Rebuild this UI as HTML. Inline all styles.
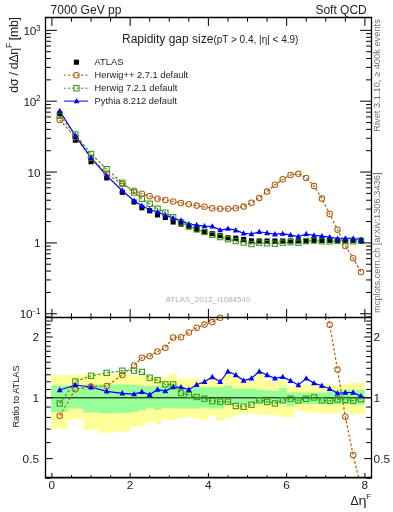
<!DOCTYPE html><html><head><meta charset="utf-8"><style>html,body{margin:0;padding:0;background:#fff;}svg{display:block;will-change:transform;}text{font-family:"Liberation Sans",sans-serif;}</style></head><body>
<svg width="393" height="512" viewBox="0 0 393 512" fill="#222">
<rect x="0" y="0" width="393" height="512" fill="#fff"/>
<path d="M51.10,375.00H67.55V428.70H51.10ZM67.55,375.00H83.20V419.20H67.55ZM83.20,373.90H98.85V430.00H83.20ZM98.85,373.90H114.50V432.80H98.85ZM114.50,373.90H130.15V431.40H114.50ZM130.15,375.30H137.97V426.90H130.15ZM137.97,375.30H145.80V426.10H137.97ZM145.80,376.90H153.62V421.40H145.80ZM153.62,377.70H161.45V423.75H153.62ZM161.45,376.90H169.28V419.80H161.45ZM169.28,373.30H177.10V420.20H169.28ZM177.10,378.70H184.93V417.80H177.10ZM184.93,378.70H192.75V417.00H184.93ZM192.75,378.70H200.57V418.60H192.75ZM200.57,379.50H208.40V420.20H200.57ZM208.40,378.70H216.23V415.50H208.40ZM216.23,380.00H224.05V421.00H216.23ZM224.05,372.00H231.88V418.30H224.05ZM231.88,376.90H239.70V415.20H231.88ZM239.70,380.00H247.53V413.60H239.70ZM247.53,380.00H255.35V413.60H247.53ZM255.35,372.00H263.18V414.40H255.35ZM263.18,380.00H271.00V415.20H263.18ZM271.00,382.00H278.82V415.20H271.00ZM278.82,379.20H286.65V416.70H278.82ZM286.65,387.00H294.48V416.70H286.65ZM294.48,386.25H302.30V409.70H294.48ZM302.30,384.70H310.12V412.80H302.30ZM310.12,384.00H317.95V412.80H310.12ZM317.95,384.00H325.77V413.60H317.95ZM325.77,384.00H333.60V413.60H325.77ZM333.60,386.60H341.43V413.20H333.60ZM341.43,384.50H349.25V410.40H341.43ZM349.25,383.00H357.07V414.60H349.25ZM357.07,382.40H364.90V413.90H357.07Z" fill="#ffff99"/>
<path d="M51.10,385.50H67.55V412.00H51.10ZM67.55,385.50H83.20V408.40H67.55ZM83.20,384.50H98.85V412.40H83.20ZM98.85,384.50H114.50V413.50H98.85ZM114.50,384.50H130.15V413.00H114.50ZM130.15,384.70H137.97V412.00H130.15ZM137.97,385.50H145.80V410.50H137.97ZM145.80,386.25H153.62V408.10H145.80ZM153.62,385.50H161.45V409.70H153.62ZM161.45,384.70H169.28V408.10H161.45ZM169.28,383.40H177.10V408.40H169.28ZM177.10,387.00H184.93V408.40H177.10ZM184.93,389.00H192.75V408.40H184.93ZM192.75,387.30H200.57V408.40H192.75ZM200.57,387.30H208.40V407.60H200.57ZM208.40,387.30H216.23V408.40H208.40ZM216.23,387.30H224.05V408.40H216.23ZM224.05,385.50H231.88V403.40H224.05ZM231.88,388.60H239.70V403.40H231.88ZM239.70,388.60H247.53V403.40H239.70ZM247.53,388.60H255.35V403.40H247.53ZM255.35,389.40H263.18V403.40H255.35ZM263.18,390.20H271.00V403.40H263.18ZM271.00,390.90H278.82V403.40H271.00ZM278.82,387.80H286.65V403.40H278.82ZM286.65,392.50H294.48V406.60H286.65ZM294.48,392.50H302.30V404.00H294.48ZM302.30,392.50H310.12V404.20H302.30ZM310.12,392.50H317.95V404.00H310.12ZM317.95,392.50H325.77V404.00H317.95ZM325.77,391.50H333.60V404.00H325.77ZM333.60,390.50H341.43V404.50H333.60ZM341.43,390.00H349.25V404.50H341.43ZM349.25,390.00H357.07V404.50H349.25ZM357.07,390.00H364.90V404.50H357.07Z" fill="#99ff99"/>
<line x1="45.5" y1="397.8" x2="371.5" y2="397.8" stroke="#000" stroke-width="1.0"/>
<defs><clipPath id="cm"><rect x="45.5" y="17.5" width="326.0" height="300.0"/></clipPath><clipPath id="cr"><rect x="45.5" y="317.5" width="326.0" height="160.0"/></clipPath></defs>
<polyline points="59.73,415.70 75.38,389.20 91.03,386.60 106.67,386.00 122.32,375.00 134.06,365.50 141.89,357.80 149.71,356.20 157.54,351.50 165.36,347.70 173.19,337.40 181.01,337.20 188.84,332.50 196.66,327.80 204.49,324.60 212.31,322.10 220.14,317.80 227.96,315.12 235.79,312.27 243.61,304.28 251.44,289.46 259.26,274.92 267.09,256.96 274.91,237.57 282.74,221.89 290.56,209.34 298.39,206.21 306.21,218.47 314.04,241.85 321.86,278.62 329.69,324.70 337.51,369.50 345.34,416.80 353.16,455.00 360.99,488.18" fill="none" stroke="#b35c0e" stroke-width="1.2" stroke-dasharray="2.6,2" clip-path="url(#cr)"/>
<polyline points="59.73,403.50 75.38,381.50 91.03,375.80 106.67,372.90 122.32,370.70 134.06,370.70 141.89,371.90 149.71,377.70 157.54,380.10 165.36,384.30 173.19,384.30 181.01,393.00 188.84,395.00 196.66,397.00 204.49,398.70 212.31,401.10 220.14,401.70 227.96,401.70 235.79,406.00 243.61,406.70 251.44,404.70 259.26,400.20 267.09,401.90 274.91,403.40 282.74,400.30 290.56,398.75 298.39,400.30 306.21,398.75 314.04,397.50 321.86,400.30 329.69,400.90 337.51,399.50 345.34,399.90 353.16,400.60 360.99,399.20" fill="none" stroke="#399614" stroke-width="1.2" stroke-dasharray="2.6,2" clip-path="url(#cr)"/>
<polyline points="59.73,390.00 75.38,385.00 91.03,387.00 106.67,391.30 122.32,393.30 134.06,394.10 141.89,391.80 149.71,394.80 157.54,389.50 165.36,391.10 173.19,387.10 181.01,387.10 188.84,389.70 196.66,384.80 204.49,381.80 212.31,377.00 220.14,381.80 227.96,371.50 235.79,375.00 243.61,380.50 251.44,378.40 259.26,371.50 267.09,375.00 274.91,378.40 282.74,376.90 290.56,380.80 298.39,385.00 306.21,378.40 314.04,383.10 321.86,385.70 329.69,388.80 337.51,393.30 345.34,392.50 353.16,392.50 360.99,396.10" fill="none" stroke="#0000ff" stroke-width="1.2" clip-path="url(#cr)"/>
<g>
<circle cx="59.73" cy="415.70" r="2.75" fill="none" stroke="#b35c0e" stroke-width="1.05"/>
<circle cx="75.38" cy="389.20" r="2.75" fill="none" stroke="#b35c0e" stroke-width="1.05"/>
<circle cx="91.03" cy="386.60" r="2.75" fill="none" stroke="#b35c0e" stroke-width="1.05"/>
<circle cx="106.67" cy="386.00" r="2.75" fill="none" stroke="#b35c0e" stroke-width="1.05"/>
<circle cx="122.32" cy="375.00" r="2.75" fill="none" stroke="#b35c0e" stroke-width="1.05"/>
<circle cx="134.06" cy="365.50" r="2.75" fill="none" stroke="#b35c0e" stroke-width="1.05"/>
<circle cx="141.89" cy="357.80" r="2.75" fill="none" stroke="#b35c0e" stroke-width="1.05"/>
<circle cx="149.71" cy="356.20" r="2.75" fill="none" stroke="#b35c0e" stroke-width="1.05"/>
<circle cx="157.54" cy="351.50" r="2.75" fill="none" stroke="#b35c0e" stroke-width="1.05"/>
<circle cx="165.36" cy="347.70" r="2.75" fill="none" stroke="#b35c0e" stroke-width="1.05"/>
<circle cx="173.19" cy="337.40" r="2.75" fill="none" stroke="#b35c0e" stroke-width="1.05"/>
<circle cx="181.01" cy="337.20" r="2.75" fill="none" stroke="#b35c0e" stroke-width="1.05"/>
<circle cx="188.84" cy="332.50" r="2.75" fill="none" stroke="#b35c0e" stroke-width="1.05"/>
<circle cx="196.66" cy="327.80" r="2.75" fill="none" stroke="#b35c0e" stroke-width="1.05"/>
<circle cx="204.49" cy="324.60" r="2.75" fill="none" stroke="#b35c0e" stroke-width="1.05"/>
<circle cx="212.31" cy="322.10" r="2.75" fill="none" stroke="#b35c0e" stroke-width="1.05"/>
<circle cx="220.14" cy="317.80" r="2.75" fill="none" stroke="#b35c0e" stroke-width="1.05"/>
<circle cx="329.69" cy="324.70" r="2.75" fill="none" stroke="#b35c0e" stroke-width="1.05"/>
<circle cx="337.51" cy="369.50" r="2.75" fill="none" stroke="#b35c0e" stroke-width="1.05"/>
<circle cx="345.34" cy="416.80" r="2.75" fill="none" stroke="#b35c0e" stroke-width="1.05"/>
<circle cx="353.16" cy="455.00" r="2.75" fill="none" stroke="#b35c0e" stroke-width="1.05"/>
<rect x="57.08" y="400.85" width="5.3" height="5.3" fill="none" stroke="#399614" stroke-width="1.05"/>
<rect x="72.72" y="378.85" width="5.3" height="5.3" fill="none" stroke="#399614" stroke-width="1.05"/>
<rect x="88.38" y="373.15" width="5.3" height="5.3" fill="none" stroke="#399614" stroke-width="1.05"/>
<rect x="104.02" y="370.25" width="5.3" height="5.3" fill="none" stroke="#399614" stroke-width="1.05"/>
<rect x="119.67" y="368.05" width="5.3" height="5.3" fill="none" stroke="#399614" stroke-width="1.05"/>
<rect x="131.41" y="368.05" width="5.3" height="5.3" fill="none" stroke="#399614" stroke-width="1.05"/>
<rect x="139.24" y="369.25" width="5.3" height="5.3" fill="none" stroke="#399614" stroke-width="1.05"/>
<rect x="147.06" y="375.05" width="5.3" height="5.3" fill="none" stroke="#399614" stroke-width="1.05"/>
<rect x="154.89" y="377.45" width="5.3" height="5.3" fill="none" stroke="#399614" stroke-width="1.05"/>
<rect x="162.71" y="381.65" width="5.3" height="5.3" fill="none" stroke="#399614" stroke-width="1.05"/>
<rect x="170.54" y="381.65" width="5.3" height="5.3" fill="none" stroke="#399614" stroke-width="1.05"/>
<rect x="178.36" y="390.35" width="5.3" height="5.3" fill="none" stroke="#399614" stroke-width="1.05"/>
<rect x="186.19" y="392.35" width="5.3" height="5.3" fill="none" stroke="#399614" stroke-width="1.05"/>
<rect x="194.01" y="394.35" width="5.3" height="5.3" fill="none" stroke="#399614" stroke-width="1.05"/>
<rect x="201.84" y="396.05" width="5.3" height="5.3" fill="none" stroke="#399614" stroke-width="1.05"/>
<rect x="209.66" y="398.45" width="5.3" height="5.3" fill="none" stroke="#399614" stroke-width="1.05"/>
<rect x="217.49" y="399.05" width="5.3" height="5.3" fill="none" stroke="#399614" stroke-width="1.05"/>
<rect x="225.31" y="399.05" width="5.3" height="5.3" fill="none" stroke="#399614" stroke-width="1.05"/>
<rect x="233.14" y="403.35" width="5.3" height="5.3" fill="none" stroke="#399614" stroke-width="1.05"/>
<rect x="240.96" y="404.05" width="5.3" height="5.3" fill="none" stroke="#399614" stroke-width="1.05"/>
<rect x="248.79" y="402.05" width="5.3" height="5.3" fill="none" stroke="#399614" stroke-width="1.05"/>
<rect x="256.61" y="397.55" width="5.3" height="5.3" fill="none" stroke="#399614" stroke-width="1.05"/>
<rect x="264.44" y="399.25" width="5.3" height="5.3" fill="none" stroke="#399614" stroke-width="1.05"/>
<rect x="272.26" y="400.75" width="5.3" height="5.3" fill="none" stroke="#399614" stroke-width="1.05"/>
<rect x="280.09" y="397.65" width="5.3" height="5.3" fill="none" stroke="#399614" stroke-width="1.05"/>
<rect x="287.91" y="396.10" width="5.3" height="5.3" fill="none" stroke="#399614" stroke-width="1.05"/>
<rect x="295.74" y="397.65" width="5.3" height="5.3" fill="none" stroke="#399614" stroke-width="1.05"/>
<rect x="303.56" y="396.10" width="5.3" height="5.3" fill="none" stroke="#399614" stroke-width="1.05"/>
<rect x="311.39" y="394.85" width="5.3" height="5.3" fill="none" stroke="#399614" stroke-width="1.05"/>
<rect x="319.21" y="397.65" width="5.3" height="5.3" fill="none" stroke="#399614" stroke-width="1.05"/>
<rect x="327.04" y="398.25" width="5.3" height="5.3" fill="none" stroke="#399614" stroke-width="1.05"/>
<rect x="334.86" y="396.85" width="5.3" height="5.3" fill="none" stroke="#399614" stroke-width="1.05"/>
<rect x="342.69" y="397.25" width="5.3" height="5.3" fill="none" stroke="#399614" stroke-width="1.05"/>
<rect x="350.51" y="397.95" width="5.3" height="5.3" fill="none" stroke="#399614" stroke-width="1.05"/>
<rect x="358.34" y="396.55" width="5.3" height="5.3" fill="none" stroke="#399614" stroke-width="1.05"/>
<path d="M59.73,386.80 L62.62,392.20 L56.83,392.20Z" fill="#0000ff"/>
<path d="M75.38,381.80 L78.28,387.20 L72.47,387.20Z" fill="#0000ff"/>
<path d="M91.03,383.80 L93.93,389.20 L88.12,389.20Z" fill="#0000ff"/>
<path d="M106.67,388.10 L109.58,393.50 L103.77,393.50Z" fill="#0000ff"/>
<path d="M122.32,390.10 L125.22,395.50 L119.42,395.50Z" fill="#0000ff"/>
<path d="M134.06,390.90 L136.96,396.30 L131.16,396.30Z" fill="#0000ff"/>
<path d="M141.89,388.60 L144.79,394.00 L138.99,394.00Z" fill="#0000ff"/>
<path d="M149.71,391.60 L152.61,397.00 L146.81,397.00Z" fill="#0000ff"/>
<path d="M157.54,386.30 L160.44,391.70 L154.64,391.70Z" fill="#0000ff"/>
<path d="M165.36,387.90 L168.26,393.30 L162.46,393.30Z" fill="#0000ff"/>
<path d="M173.19,383.90 L176.09,389.30 L170.29,389.30Z" fill="#0000ff"/>
<path d="M181.01,383.90 L183.91,389.30 L178.11,389.30Z" fill="#0000ff"/>
<path d="M188.84,386.50 L191.74,391.90 L185.94,391.90Z" fill="#0000ff"/>
<path d="M196.66,381.60 L199.56,387.00 L193.76,387.00Z" fill="#0000ff"/>
<path d="M204.49,378.60 L207.39,384.00 L201.59,384.00Z" fill="#0000ff"/>
<path d="M212.31,373.80 L215.21,379.20 L209.41,379.20Z" fill="#0000ff"/>
<path d="M220.14,378.60 L223.04,384.00 L217.24,384.00Z" fill="#0000ff"/>
<path d="M227.96,368.30 L230.86,373.70 L225.06,373.70Z" fill="#0000ff"/>
<path d="M235.79,371.80 L238.69,377.20 L232.89,377.20Z" fill="#0000ff"/>
<path d="M243.61,377.30 L246.51,382.70 L240.71,382.70Z" fill="#0000ff"/>
<path d="M251.44,375.20 L254.34,380.60 L248.54,380.60Z" fill="#0000ff"/>
<path d="M259.26,368.30 L262.16,373.70 L256.36,373.70Z" fill="#0000ff"/>
<path d="M267.09,371.80 L269.99,377.20 L264.19,377.20Z" fill="#0000ff"/>
<path d="M274.91,375.20 L277.81,380.60 L272.01,380.60Z" fill="#0000ff"/>
<path d="M282.74,373.70 L285.64,379.10 L279.84,379.10Z" fill="#0000ff"/>
<path d="M290.56,377.60 L293.46,383.00 L287.66,383.00Z" fill="#0000ff"/>
<path d="M298.39,381.80 L301.29,387.20 L295.49,387.20Z" fill="#0000ff"/>
<path d="M306.21,375.20 L309.11,380.60 L303.31,380.60Z" fill="#0000ff"/>
<path d="M314.04,379.90 L316.94,385.30 L311.14,385.30Z" fill="#0000ff"/>
<path d="M321.86,382.50 L324.76,387.90 L318.96,387.90Z" fill="#0000ff"/>
<path d="M329.69,385.60 L332.59,391.00 L326.79,391.00Z" fill="#0000ff"/>
<path d="M337.51,390.10 L340.41,395.50 L334.61,395.50Z" fill="#0000ff"/>
<path d="M345.34,389.30 L348.24,394.70 L342.44,394.70Z" fill="#0000ff"/>
<path d="M353.16,389.30 L356.06,394.70 L350.26,394.70Z" fill="#0000ff"/>
<path d="M360.99,392.90 L363.89,398.30 L358.09,398.30Z" fill="#0000ff"/>
</g>
<polyline points="59.73,119.93 75.38,137.18 91.03,157.77 106.67,173.76 122.32,184.30 134.06,190.67 141.89,193.77 149.71,196.21 157.54,198.66 165.36,199.93 173.19,201.50 181.01,202.90 188.84,204.20 196.66,205.60 204.49,206.80 212.31,208.20 220.14,208.80 227.96,208.80 235.79,208.20 243.61,206.60 251.44,202.80 259.26,197.90 267.09,191.60 274.91,184.80 282.74,179.30 290.56,174.90 298.39,173.80 306.21,177.90 314.04,185.90 321.86,198.60 329.69,213.90 337.51,229.70 345.34,245.90 353.16,258.30 360.99,272.00" fill="none" stroke="#b35c0e" stroke-width="1.2" stroke-dasharray="2.6,2" clip-path="url(#cm)"/>
<polyline points="59.73,115.65 75.38,134.48 91.03,153.98 106.67,169.17 122.32,182.79 134.06,192.49 141.89,198.72 149.71,203.75 157.54,208.69 165.36,212.76 173.19,217.26 181.01,222.42 188.84,226.02 196.66,229.32 204.49,232.02 212.31,234.86 220.14,237.07 227.96,239.17 235.79,241.08 243.61,242.52 251.44,244.02 259.26,242.64 267.09,243.24 274.91,243.76 282.74,242.68 290.56,242.13 298.39,242.68 306.21,241.13 314.04,240.49 321.86,241.28 329.69,241.39 337.51,240.90 345.34,241.04 353.16,241.28 360.99,240.79" fill="none" stroke="#399614" stroke-width="1.2" stroke-dasharray="2.6,2" clip-path="url(#cm)"/>
<polyline points="59.73,110.91 75.38,135.71 91.03,157.91 106.67,175.62 122.32,190.72 134.06,200.70 141.89,205.70 149.71,209.75 157.54,211.99 165.36,215.15 173.19,218.25 181.01,220.35 188.84,224.16 196.66,225.04 204.49,226.09 212.31,226.40 220.14,230.09 227.96,228.58 235.79,230.20 243.61,233.33 251.44,234.00 259.26,231.78 267.09,233.00 274.91,234.20 282.74,233.67 290.56,235.04 298.39,236.51 306.21,234.00 314.04,235.44 321.86,236.16 329.69,237.14 337.51,238.72 345.34,238.44 353.16,238.44 360.99,239.70" fill="none" stroke="#0000ff" stroke-width="1.2" clip-path="url(#cm)"/>
<rect x="57.18" y="111.10" width="5.1" height="5.1" fill="#000"/>
<rect x="72.83" y="137.65" width="5.1" height="5.1" fill="#000"/>
<rect x="88.48" y="159.15" width="5.1" height="5.1" fill="#000"/>
<rect x="104.12" y="175.35" width="5.1" height="5.1" fill="#000"/>
<rect x="119.77" y="189.75" width="5.1" height="5.1" fill="#000"/>
<rect x="131.51" y="199.45" width="5.1" height="5.1" fill="#000"/>
<rect x="139.34" y="205.25" width="5.1" height="5.1" fill="#000"/>
<rect x="147.16" y="208.25" width="5.1" height="5.1" fill="#000"/>
<rect x="154.99" y="212.35" width="5.1" height="5.1" fill="#000"/>
<rect x="162.81" y="214.95" width="5.1" height="5.1" fill="#000"/>
<rect x="170.64" y="219.45" width="5.1" height="5.1" fill="#000"/>
<rect x="178.46" y="221.55" width="5.1" height="5.1" fill="#000"/>
<rect x="186.29" y="224.45" width="5.1" height="5.1" fill="#000"/>
<rect x="194.11" y="227.05" width="5.1" height="5.1" fill="#000"/>
<rect x="201.94" y="229.15" width="5.1" height="5.1" fill="#000"/>
<rect x="209.76" y="231.15" width="5.1" height="5.1" fill="#000"/>
<rect x="217.59" y="233.15" width="5.1" height="5.1" fill="#000"/>
<rect x="225.41" y="235.25" width="5.1" height="5.1" fill="#000"/>
<rect x="233.24" y="235.65" width="5.1" height="5.1" fill="#000"/>
<rect x="241.06" y="236.85" width="5.1" height="5.1" fill="#000"/>
<rect x="248.89" y="238.25" width="5.1" height="5.1" fill="#000"/>
<rect x="256.71" y="238.45" width="5.1" height="5.1" fill="#000"/>
<rect x="264.54" y="238.45" width="5.1" height="5.1" fill="#000"/>
<rect x="272.36" y="238.45" width="5.1" height="5.1" fill="#000"/>
<rect x="280.19" y="238.45" width="5.1" height="5.1" fill="#000"/>
<rect x="288.01" y="238.45" width="5.1" height="5.1" fill="#000"/>
<rect x="295.84" y="238.45" width="5.1" height="5.1" fill="#000"/>
<rect x="303.66" y="238.25" width="5.1" height="5.1" fill="#000"/>
<rect x="311.49" y="238.05" width="5.1" height="5.1" fill="#000"/>
<rect x="319.31" y="237.85" width="5.1" height="5.1" fill="#000"/>
<rect x="327.14" y="237.75" width="5.1" height="5.1" fill="#000"/>
<rect x="334.96" y="237.75" width="5.1" height="5.1" fill="#000"/>
<rect x="342.79" y="237.75" width="5.1" height="5.1" fill="#000"/>
<rect x="350.61" y="237.75" width="5.1" height="5.1" fill="#000"/>
<rect x="358.44" y="237.75" width="5.1" height="5.1" fill="#000"/>
<circle cx="59.73" cy="119.93" r="2.75" fill="none" stroke="#b35c0e" stroke-width="1.05"/>
<circle cx="75.38" cy="137.18" r="2.75" fill="none" stroke="#b35c0e" stroke-width="1.05"/>
<circle cx="91.03" cy="157.77" r="2.75" fill="none" stroke="#b35c0e" stroke-width="1.05"/>
<circle cx="106.67" cy="173.76" r="2.75" fill="none" stroke="#b35c0e" stroke-width="1.05"/>
<circle cx="122.32" cy="184.30" r="2.75" fill="none" stroke="#b35c0e" stroke-width="1.05"/>
<circle cx="134.06" cy="190.67" r="2.75" fill="none" stroke="#b35c0e" stroke-width="1.05"/>
<circle cx="141.89" cy="193.77" r="2.75" fill="none" stroke="#b35c0e" stroke-width="1.05"/>
<circle cx="149.71" cy="196.21" r="2.75" fill="none" stroke="#b35c0e" stroke-width="1.05"/>
<circle cx="157.54" cy="198.66" r="2.75" fill="none" stroke="#b35c0e" stroke-width="1.05"/>
<circle cx="165.36" cy="199.93" r="2.75" fill="none" stroke="#b35c0e" stroke-width="1.05"/>
<circle cx="173.19" cy="201.50" r="2.75" fill="none" stroke="#b35c0e" stroke-width="1.05"/>
<circle cx="181.01" cy="202.90" r="2.75" fill="none" stroke="#b35c0e" stroke-width="1.05"/>
<circle cx="188.84" cy="204.20" r="2.75" fill="none" stroke="#b35c0e" stroke-width="1.05"/>
<circle cx="196.66" cy="205.60" r="2.75" fill="none" stroke="#b35c0e" stroke-width="1.05"/>
<circle cx="204.49" cy="206.80" r="2.75" fill="none" stroke="#b35c0e" stroke-width="1.05"/>
<circle cx="212.31" cy="208.20" r="2.75" fill="none" stroke="#b35c0e" stroke-width="1.05"/>
<circle cx="220.14" cy="208.80" r="2.75" fill="none" stroke="#b35c0e" stroke-width="1.05"/>
<circle cx="227.96" cy="208.80" r="2.75" fill="none" stroke="#b35c0e" stroke-width="1.05"/>
<circle cx="235.79" cy="208.20" r="2.75" fill="none" stroke="#b35c0e" stroke-width="1.05"/>
<circle cx="243.61" cy="206.60" r="2.75" fill="none" stroke="#b35c0e" stroke-width="1.05"/>
<circle cx="251.44" cy="202.80" r="2.75" fill="none" stroke="#b35c0e" stroke-width="1.05"/>
<circle cx="259.26" cy="197.90" r="2.75" fill="none" stroke="#b35c0e" stroke-width="1.05"/>
<circle cx="267.09" cy="191.60" r="2.75" fill="none" stroke="#b35c0e" stroke-width="1.05"/>
<circle cx="274.91" cy="184.80" r="2.75" fill="none" stroke="#b35c0e" stroke-width="1.05"/>
<circle cx="282.74" cy="179.30" r="2.75" fill="none" stroke="#b35c0e" stroke-width="1.05"/>
<circle cx="290.56" cy="174.90" r="2.75" fill="none" stroke="#b35c0e" stroke-width="1.05"/>
<circle cx="298.39" cy="173.80" r="2.75" fill="none" stroke="#b35c0e" stroke-width="1.05"/>
<circle cx="306.21" cy="177.90" r="2.75" fill="none" stroke="#b35c0e" stroke-width="1.05"/>
<circle cx="314.04" cy="185.90" r="2.75" fill="none" stroke="#b35c0e" stroke-width="1.05"/>
<circle cx="321.86" cy="198.60" r="2.75" fill="none" stroke="#b35c0e" stroke-width="1.05"/>
<circle cx="329.69" cy="213.90" r="2.75" fill="none" stroke="#b35c0e" stroke-width="1.05"/>
<circle cx="337.51" cy="229.70" r="2.75" fill="none" stroke="#b35c0e" stroke-width="1.05"/>
<circle cx="345.34" cy="245.90" r="2.75" fill="none" stroke="#b35c0e" stroke-width="1.05"/>
<circle cx="353.16" cy="258.30" r="2.75" fill="none" stroke="#b35c0e" stroke-width="1.05"/>
<circle cx="360.99" cy="272.00" r="2.75" fill="none" stroke="#b35c0e" stroke-width="1.05"/>
<rect x="57.08" y="113.00" width="5.3" height="5.3" fill="none" stroke="#399614" stroke-width="1.05"/>
<rect x="72.72" y="131.83" width="5.3" height="5.3" fill="none" stroke="#399614" stroke-width="1.05"/>
<rect x="88.38" y="151.33" width="5.3" height="5.3" fill="none" stroke="#399614" stroke-width="1.05"/>
<rect x="104.02" y="166.52" width="5.3" height="5.3" fill="none" stroke="#399614" stroke-width="1.05"/>
<rect x="119.67" y="180.14" width="5.3" height="5.3" fill="none" stroke="#399614" stroke-width="1.05"/>
<rect x="131.41" y="189.84" width="5.3" height="5.3" fill="none" stroke="#399614" stroke-width="1.05"/>
<rect x="139.24" y="196.07" width="5.3" height="5.3" fill="none" stroke="#399614" stroke-width="1.05"/>
<rect x="147.06" y="201.10" width="5.3" height="5.3" fill="none" stroke="#399614" stroke-width="1.05"/>
<rect x="154.89" y="206.04" width="5.3" height="5.3" fill="none" stroke="#399614" stroke-width="1.05"/>
<rect x="162.71" y="210.11" width="5.3" height="5.3" fill="none" stroke="#399614" stroke-width="1.05"/>
<rect x="170.54" y="214.61" width="5.3" height="5.3" fill="none" stroke="#399614" stroke-width="1.05"/>
<rect x="178.36" y="219.77" width="5.3" height="5.3" fill="none" stroke="#399614" stroke-width="1.05"/>
<rect x="186.19" y="223.37" width="5.3" height="5.3" fill="none" stroke="#399614" stroke-width="1.05"/>
<rect x="194.01" y="226.67" width="5.3" height="5.3" fill="none" stroke="#399614" stroke-width="1.05"/>
<rect x="201.84" y="229.37" width="5.3" height="5.3" fill="none" stroke="#399614" stroke-width="1.05"/>
<rect x="209.66" y="232.21" width="5.3" height="5.3" fill="none" stroke="#399614" stroke-width="1.05"/>
<rect x="217.49" y="234.42" width="5.3" height="5.3" fill="none" stroke="#399614" stroke-width="1.05"/>
<rect x="225.31" y="236.52" width="5.3" height="5.3" fill="none" stroke="#399614" stroke-width="1.05"/>
<rect x="233.14" y="238.43" width="5.3" height="5.3" fill="none" stroke="#399614" stroke-width="1.05"/>
<rect x="240.96" y="239.87" width="5.3" height="5.3" fill="none" stroke="#399614" stroke-width="1.05"/>
<rect x="248.79" y="241.37" width="5.3" height="5.3" fill="none" stroke="#399614" stroke-width="1.05"/>
<rect x="256.61" y="239.99" width="5.3" height="5.3" fill="none" stroke="#399614" stroke-width="1.05"/>
<rect x="264.44" y="240.59" width="5.3" height="5.3" fill="none" stroke="#399614" stroke-width="1.05"/>
<rect x="272.26" y="241.11" width="5.3" height="5.3" fill="none" stroke="#399614" stroke-width="1.05"/>
<rect x="280.09" y="240.03" width="5.3" height="5.3" fill="none" stroke="#399614" stroke-width="1.05"/>
<rect x="287.91" y="239.48" width="5.3" height="5.3" fill="none" stroke="#399614" stroke-width="1.05"/>
<rect x="295.74" y="240.03" width="5.3" height="5.3" fill="none" stroke="#399614" stroke-width="1.05"/>
<rect x="303.56" y="238.48" width="5.3" height="5.3" fill="none" stroke="#399614" stroke-width="1.05"/>
<rect x="311.39" y="237.84" width="5.3" height="5.3" fill="none" stroke="#399614" stroke-width="1.05"/>
<rect x="319.21" y="238.63" width="5.3" height="5.3" fill="none" stroke="#399614" stroke-width="1.05"/>
<rect x="327.04" y="238.74" width="5.3" height="5.3" fill="none" stroke="#399614" stroke-width="1.05"/>
<rect x="334.86" y="238.25" width="5.3" height="5.3" fill="none" stroke="#399614" stroke-width="1.05"/>
<rect x="342.69" y="238.39" width="5.3" height="5.3" fill="none" stroke="#399614" stroke-width="1.05"/>
<rect x="350.51" y="238.63" width="5.3" height="5.3" fill="none" stroke="#399614" stroke-width="1.05"/>
<rect x="358.34" y="238.14" width="5.3" height="5.3" fill="none" stroke="#399614" stroke-width="1.05"/>
<path d="M59.73,107.71 L62.62,113.11 L56.83,113.11Z" fill="#0000ff"/>
<path d="M75.38,132.51 L78.28,137.91 L72.47,137.91Z" fill="#0000ff"/>
<path d="M91.03,154.71 L93.93,160.11 L88.12,160.11Z" fill="#0000ff"/>
<path d="M106.67,172.42 L109.58,177.82 L103.77,177.82Z" fill="#0000ff"/>
<path d="M122.32,187.52 L125.22,192.92 L119.42,192.92Z" fill="#0000ff"/>
<path d="M134.06,197.50 L136.96,202.90 L131.16,202.90Z" fill="#0000ff"/>
<path d="M141.89,202.50 L144.79,207.90 L138.99,207.90Z" fill="#0000ff"/>
<path d="M149.71,206.55 L152.61,211.95 L146.81,211.95Z" fill="#0000ff"/>
<path d="M157.54,208.79 L160.44,214.19 L154.64,214.19Z" fill="#0000ff"/>
<path d="M165.36,211.95 L168.26,217.35 L162.46,217.35Z" fill="#0000ff"/>
<path d="M173.19,215.05 L176.09,220.45 L170.29,220.45Z" fill="#0000ff"/>
<path d="M181.01,217.15 L183.91,222.55 L178.11,222.55Z" fill="#0000ff"/>
<path d="M188.84,220.96 L191.74,226.36 L185.94,226.36Z" fill="#0000ff"/>
<path d="M196.66,221.84 L199.56,227.24 L193.76,227.24Z" fill="#0000ff"/>
<path d="M204.49,222.89 L207.39,228.29 L201.59,228.29Z" fill="#0000ff"/>
<path d="M212.31,223.20 L215.21,228.60 L209.41,228.60Z" fill="#0000ff"/>
<path d="M220.14,226.89 L223.04,232.29 L217.24,232.29Z" fill="#0000ff"/>
<path d="M227.96,225.38 L230.86,230.78 L225.06,230.78Z" fill="#0000ff"/>
<path d="M235.79,227.00 L238.69,232.40 L232.89,232.40Z" fill="#0000ff"/>
<path d="M243.61,230.13 L246.51,235.53 L240.71,235.53Z" fill="#0000ff"/>
<path d="M251.44,230.80 L254.34,236.20 L248.54,236.20Z" fill="#0000ff"/>
<path d="M259.26,228.58 L262.16,233.98 L256.36,233.98Z" fill="#0000ff"/>
<path d="M267.09,229.80 L269.99,235.20 L264.19,235.20Z" fill="#0000ff"/>
<path d="M274.91,231.00 L277.81,236.40 L272.01,236.40Z" fill="#0000ff"/>
<path d="M282.74,230.47 L285.64,235.87 L279.84,235.87Z" fill="#0000ff"/>
<path d="M290.56,231.84 L293.46,237.24 L287.66,237.24Z" fill="#0000ff"/>
<path d="M298.39,233.31 L301.29,238.71 L295.49,238.71Z" fill="#0000ff"/>
<path d="M306.21,230.80 L309.11,236.20 L303.31,236.20Z" fill="#0000ff"/>
<path d="M314.04,232.24 L316.94,237.64 L311.14,237.64Z" fill="#0000ff"/>
<path d="M321.86,232.96 L324.76,238.36 L318.96,238.36Z" fill="#0000ff"/>
<path d="M329.69,233.94 L332.59,239.34 L326.79,239.34Z" fill="#0000ff"/>
<path d="M337.51,235.52 L340.41,240.92 L334.61,240.92Z" fill="#0000ff"/>
<path d="M345.34,235.24 L348.24,240.64 L342.44,240.64Z" fill="#0000ff"/>
<path d="M353.16,235.24 L356.06,240.64 L350.26,240.64Z" fill="#0000ff"/>
<path d="M360.99,236.50 L363.89,241.90 L358.09,241.90Z" fill="#0000ff"/>
<path d="M45.5,477.5V17.5H371.5V477.5" fill="none" stroke="#000" stroke-width="1.3"/>
<line x1="44.85" y1="477.6" x2="372.15" y2="477.6" stroke="#000" stroke-width="1.7"/>
<line x1="45.5" y1="317.5" x2="371.5" y2="317.5" stroke="#000" stroke-width="1.3"/>
<path d="M51.90,17.5v8.5 M51.90,317.5v-8.5 M51.90,317.5v4.6 M51.90,477.5v-4.6 M71.46,17.5v4.2 M71.46,317.5v-4.2 M71.46,317.5v2.3 M71.46,477.5v-2.3 M91.03,17.5v4.2 M91.03,317.5v-4.2 M91.03,317.5v2.3 M91.03,477.5v-2.3 M110.59,17.5v4.2 M110.59,317.5v-4.2 M110.59,317.5v2.3 M110.59,477.5v-2.3 M130.15,17.5v8.5 M130.15,317.5v-8.5 M130.15,317.5v4.6 M130.15,477.5v-4.6 M149.71,17.5v4.2 M149.71,317.5v-4.2 M149.71,317.5v2.3 M149.71,477.5v-2.3 M169.28,17.5v4.2 M169.28,317.5v-4.2 M169.28,317.5v2.3 M169.28,477.5v-2.3 M188.84,17.5v4.2 M188.84,317.5v-4.2 M188.84,317.5v2.3 M188.84,477.5v-2.3 M208.40,17.5v8.5 M208.40,317.5v-8.5 M208.40,317.5v4.6 M208.40,477.5v-4.6 M227.96,17.5v4.2 M227.96,317.5v-4.2 M227.96,317.5v2.3 M227.96,477.5v-2.3 M247.53,17.5v4.2 M247.53,317.5v-4.2 M247.53,317.5v2.3 M247.53,477.5v-2.3 M267.09,17.5v4.2 M267.09,317.5v-4.2 M267.09,317.5v2.3 M267.09,477.5v-2.3 M286.65,17.5v8.5 M286.65,317.5v-8.5 M286.65,317.5v4.6 M286.65,477.5v-4.6 M306.21,17.5v4.2 M306.21,317.5v-4.2 M306.21,317.5v2.3 M306.21,477.5v-2.3 M325.77,17.5v4.2 M325.77,317.5v-4.2 M325.77,317.5v2.3 M325.77,477.5v-2.3 M345.34,17.5v4.2 M345.34,317.5v-4.2 M345.34,317.5v2.3 M345.34,477.5v-2.3 M364.90,17.5v8.5 M364.90,317.5v-8.5 M364.90,317.5v4.6 M364.90,477.5v-4.6 M45.5,316.99h5.4 M371.5,316.99h-5.4 M45.5,313.75h11.4 M371.5,313.75h-11.4 M45.5,292.42h5.4 M371.5,292.42h-5.4 M45.5,279.95h5.4 M371.5,279.95h-5.4 M45.5,271.09h5.4 M371.5,271.09h-5.4 M45.5,264.23h5.4 M371.5,264.23h-5.4 M45.5,258.62h5.4 M371.5,258.62h-5.4 M45.5,253.87h5.4 M371.5,253.87h-5.4 M45.5,249.77h5.4 M371.5,249.77h-5.4 M45.5,246.14h5.4 M371.5,246.14h-5.4 M45.5,242.90h11.4 M371.5,242.90h-11.4 M45.5,221.57h5.4 M371.5,221.57h-5.4 M45.5,209.10h5.4 M371.5,209.10h-5.4 M45.5,200.24h5.4 M371.5,200.24h-5.4 M45.5,193.38h5.4 M371.5,193.38h-5.4 M45.5,187.77h5.4 M371.5,187.77h-5.4 M45.5,183.02h5.4 M371.5,183.02h-5.4 M45.5,178.92h5.4 M371.5,178.92h-5.4 M45.5,175.29h5.4 M371.5,175.29h-5.4 M45.5,172.05h11.4 M371.5,172.05h-11.4 M45.5,150.72h5.4 M371.5,150.72h-5.4 M45.5,138.25h5.4 M371.5,138.25h-5.4 M45.5,129.39h5.4 M371.5,129.39h-5.4 M45.5,122.53h5.4 M371.5,122.53h-5.4 M45.5,116.92h5.4 M371.5,116.92h-5.4 M45.5,112.17h5.4 M371.5,112.17h-5.4 M45.5,108.07h5.4 M371.5,108.07h-5.4 M45.5,104.44h5.4 M371.5,104.44h-5.4 M45.5,101.20h11.4 M371.5,101.20h-11.4 M45.5,79.87h5.4 M371.5,79.87h-5.4 M45.5,67.40h5.4 M371.5,67.40h-5.4 M45.5,58.54h5.4 M371.5,58.54h-5.4 M45.5,51.68h5.4 M371.5,51.68h-5.4 M45.5,46.07h5.4 M371.5,46.07h-5.4 M45.5,41.32h5.4 M371.5,41.32h-5.4 M45.5,37.22h5.4 M371.5,37.22h-5.4 M45.5,33.59h5.4 M371.5,33.59h-5.4 M45.5,30.35h11.4 M371.5,30.35h-11.4 M45.5,478.18h5.3 M371.5,478.18h-5.3 M45.5,458.61h7.3 M371.5,458.61h-7.3 M45.5,442.61h5.3 M371.5,442.61h-5.3 M45.5,429.09h5.3 M371.5,429.09h-5.3 M45.5,417.38h5.3 M371.5,417.38h-5.3 M45.5,407.04h5.3 M371.5,407.04h-5.3 M45.5,397.80h7.3 M371.5,397.80h-7.3 M45.5,389.44h5.3 M371.5,389.44h-5.3 M45.5,381.81h5.3 M371.5,381.81h-5.3 M45.5,374.78h5.3 M371.5,374.78h-5.3 M45.5,368.28h5.3 M371.5,368.28h-5.3 M45.5,362.23h5.3 M371.5,362.23h-5.3 M45.5,356.57h5.3 M371.5,356.57h-5.3 M45.5,351.25h5.3 M371.5,351.25h-5.3 M45.5,346.23h5.3 M371.5,346.23h-5.3 M45.5,341.49h5.3 M371.5,341.49h-5.3 M45.5,336.99h7.3 M371.5,336.99h-7.3 M45.5,332.71h5.3 M371.5,332.71h-5.3 M45.5,328.63h5.3 M371.5,328.63h-5.3 M45.5,324.73h5.3 M371.5,324.73h-5.3 M45.5,321.00h5.3 M371.5,321.00h-5.3 M45.5,317.42h5.3 M371.5,317.42h-5.3" stroke="#000" stroke-width="1" fill="none"/>
<text x="40.6" y="35.0" font-size="11.8" text-anchor="end" letter-spacing="-0.3">10<tspan font-size="8.2" dy="-4.4" letter-spacing="0">3</tspan></text>
<text x="40.6" y="105.8" font-size="11.8" text-anchor="end" letter-spacing="-0.3">10<tspan font-size="8.2" dy="-4.4" letter-spacing="0">2</tspan></text>
<text x="40.6" y="318.4" font-size="11.8" text-anchor="end" letter-spacing="-0.3">10<tspan font-size="6.4" dy="-4.4" letter-spacing="0">&#8722;</tspan><tspan font-size="8.2" letter-spacing="0">1</tspan></text>
<text x="40.6" y="176.5" font-size="11.8" text-anchor="end" fill="#222">10</text>
<text x="40.6" y="247.3" font-size="11.8" text-anchor="end" fill="#222">1</text>
<text x="39.0" y="341.4" font-size="11.8" text-anchor="end" fill="#222">2</text>
<text x="373.6" y="341.4" font-size="11.8" text-anchor="start" fill="#222">2</text>
<text x="39.0" y="402.2" font-size="11.8" text-anchor="end" fill="#222">1</text>
<text x="373.6" y="402.2" font-size="11.8" text-anchor="start" fill="#222">1</text>
<text x="39.0" y="463.0" font-size="11.8" text-anchor="end" fill="#222">0.5</text>
<text x="373.6" y="463.0" font-size="11.8" text-anchor="start" fill="#222">0.5</text>
<text x="51.90" y="488.8" font-size="11.8" text-anchor="middle" fill="#222">0</text>
<text x="130.15" y="488.8" font-size="11.8" text-anchor="middle" fill="#222">2</text>
<text x="208.40" y="488.8" font-size="11.8" text-anchor="middle" fill="#222">4</text>
<text x="286.65" y="488.8" font-size="11.8" text-anchor="middle" fill="#222">6</text>
<text x="364.90" y="488.8" font-size="11.8" text-anchor="middle" fill="#222">8</text>
<text x="350.6" y="504.5" font-size="12">&#916;</text><text x="358.4" y="504.5" font-size="12" textLength="8" lengthAdjust="spacingAndGlyphs">&#951;</text><text x="366.2" y="499" font-size="7.6">F</text>
<text transform="translate(17.6,17.2) rotate(-90)" font-size="12.3" letter-spacing="-0.25" text-anchor="end">d&#963; / d&#916;&#951;<tspan font-size="8.2" dy="-5.2">F</tspan><tspan dy="5.2"> [mb]</tspan></text>
<text transform="translate(18.5,396.5) rotate(-90)" font-size="9.2" text-anchor="middle">Ratio to ATLAS</text>
<text x="50.6" y="14.3" font-size="12" text-anchor="start" fill="#222">7000 GeV pp</text>
<text x="366.8" y="14.3" font-size="12" text-anchor="end" fill="#222">Soft QCD</text>
<text x="122" y="42.5" font-size="12">Rapidity gap size<tspan font-size="10">(pT &gt; 0.4, |&#951;| &lt; 4.9)</tspan></text>
<rect x="73.85" y="59.65" width="5.1" height="5.1" fill="#000"/>
<text x="94.6" y="64.8" font-size="9.3" text-anchor="start" fill="#222">ATLAS</text>
<line x1="63.8" y1="75.2" x2="88" y2="75.2" stroke="#b35c0e" stroke-width="1.0" stroke-dasharray="2.4,1.95" stroke-dashoffset="0.3"/>
<circle cx="76.40" cy="75.20" r="2.75" fill="none" stroke="#b35c0e" stroke-width="1.05"/>
<text x="94.6" y="77.8" font-size="9.3" text-anchor="start" fill="#222">Herwig++ 2.7.1 default</text>
<line x1="63.8" y1="88.2" x2="88" y2="88.2" stroke="#399614" stroke-width="1.0" stroke-dasharray="2.4,1.95" stroke-dashoffset="0.3"/>
<rect x="73.75" y="85.55" width="5.3" height="5.3" fill="none" stroke="#399614" stroke-width="1.05"/>
<text x="94.6" y="90.8" font-size="9.3" text-anchor="start" fill="#222">Herwig 7.2.1 default</text>
<line x1="63.8" y1="101.1" x2="88" y2="101.1" stroke="#0000ff" stroke-width="1.0"/>
<path d="M76.60,97.90 L79.50,103.30 L73.70,103.30Z" fill="#0000ff"/>
<text x="94.6" y="103.8" font-size="9.3" text-anchor="start" fill="#222">Pythia 8.212 default</text>
<text x="208" y="301.8" font-size="8" text-anchor="middle" fill="#b0b0b0">ATLAS_2012_I1084540</text>
<text transform="translate(380.3,131.8) rotate(-90)" font-size="9.3" fill="#707070">Rivet 3.1.10, &#8805; 400k events</text>
<text transform="translate(380.3,313) rotate(-90)" font-size="9.3" fill="#707070">mcplots.cern.ch [arXiv:1306.3436]</text>
</svg></body></html>
